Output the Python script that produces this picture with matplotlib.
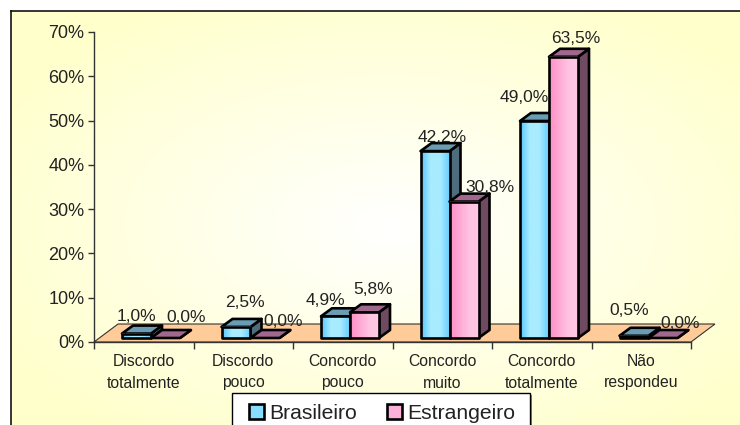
import numpy as np
import matplotlib
matplotlib.use("Agg")
import matplotlib.pyplot as plt
from matplotlib.patches import Polygon, Patch, Rectangle

plt.rcParams['font.family'] = ['Liberation Sans', 'DejaVu Sans']

categories = ["Discordo\ntotalmente", "Discordo\npouco", "Concordo\npouco",
              "Concordo\nmuito", "Concordo\ntotalmente", "Não\nrespondeu"]
brasileiro = [1.0, 2.5, 4.9, 42.2, 49.0, 0.5]
estrangeiro = [0.0, 0.0, 5.8, 30.8, 63.5, 0.0]
series_names = ["Brasileiro", "Estrangeiro"]
y_ticks = [0, 10, 20, 30, 40, 50, 60, 70]
# label offsets from each bar's front top centre, in pixels
label_off_b = [(0, 17), (9, 24), (-10, 16), (7, 14), (-10, 23), (-5, 25)]
label_off_e = [(20.5, 21), (18, 17), (8.5, 23), (26, 14), (12.5, 18), (17, 14)]

W, H = 740, 425
fig = plt.figure(figsize=(W / 100, H / 100), dpi=100, facecolor='white')

# panel background
bg = fig.add_axes([11 / W, 0, (W - 11) / W, (H - 11) / H], zorder=0)
nx, ny = 365, 207
X, Y = np.meshgrid(np.linspace(0, 1, nx), np.linspace(0, 1, ny))
d = np.clip(np.sqrt(((X - 0.52) / 0.62) ** 2 + ((Y - 0.52) / 0.62) ** 2), 0, 1)
img = np.dstack([np.ones_like(d), np.ones_like(d), 1 - 0.2 * d])
bg.imshow(img, aspect='auto', extent=(0, 1, 0, 1), interpolation='bilinear')
bg.set_xticks([]); bg.set_yticks([])
for s in ('right', 'bottom'):
    bg.spines[s].set_visible(False)
for s in ('top', 'left'):
    bg.spines[s].set_linewidth(1.1)
    bg.spines[s].set_color('black')

# plot axes
L, R, T, B = 94, 691, 32, 342
ax = fig.add_axes([L / W, (H - B) / H, (R - L) / W, (B - T) / H], zorder=1)
ax.patch.set_alpha(0)
ax.set_xlim(0, 6)
ax.set_ylim(0, 70)
px = 6 / (R - L)          # x units per pixel
py = 70 / (B - T)         # y units per pixel
for s in ('top', 'right'):
    ax.spines[s].set_visible(False)
for s in ('left', 'bottom'):
    ax.spines[s].set_color('#333333')
    ax.spines[s].set_linewidth(1.0)

# floor
fdx, fdy = 24 * px, 18 * py
ax.add_patch(Polygon([(0, 0), (6, 0), (6 + fdx, fdy), (fdx, fdy)], closed=True,
                     facecolor='#FFCC99', edgecolor='#333333', lw=0.8,
                     clip_on=False, zorder=1))

bar_w = 29 * px
ddx, ddy = 11 * px, 8 * py
base = 4 * py


def gradient(stops):
    t = np.linspace(0, 1, 64)
    c = np.array([matplotlib.colors.to_rgb(s) for s in stops])
    pos = np.linspace(0, 1, len(stops))
    return np.dstack([np.interp(t, pos, c[:, i]) for i in range(3)]).reshape(1, 64, 3)


def bar3d(x0, v, stops, top_col, side_col, z):
    x1 = x0 + bar_w
    y0, y1 = base, base + v
    lw = 1.9
    side = [(x1, y0), (x1 + ddx, y0 + ddy), (x1 + ddx, y1 + ddy), (x1, y1)]
    top = [(x0, y1), (x1, y1), (x1 + ddx, y1 + ddy), (x0 + ddx, y1 + ddy)]
    ax.add_patch(Polygon(side, closed=True, fc=side_col, ec='black', lw=lw,
                         clip_on=False, zorder=z, joinstyle='round'))
    ax.add_patch(Polygon(top, closed=True, fc=top_col, ec='black', lw=lw,
                         clip_on=False, zorder=z, joinstyle='round'))
    if v > 0:
        ax.imshow(gradient(stops), extent=(x0, x1, y0, y1), aspect='auto',
                  interpolation='bilinear', zorder=z + 0.1, clip_on=False)
        ax.add_patch(Polygon([(x0, y0), (x1, y0), (x1, y1), (x0, y1)], closed=True,
                             fc='none', ec='black', lw=lw, clip_on=False,
                             zorder=z + 0.2, joinstyle='round'))


blue_stops = ['#55C4FF', '#A8ECFF', '#A8ECFF', '#66CCFF']
pink_stops = ['#FF8FC6', '#FFA8D4', '#FFC4E2', '#FFC8E4']
xb0 = 28 * px   # left edge of first bar inside its category
for i in range(6):
    xb = i + xb0
    xe = xb + bar_w
    z = 3 + i
    bar3d(xb, brasileiro[i], blue_stops, '#6A9DB4', '#4E6C7C', z)
    bar3d(xe, estrangeiro[i], pink_stops, '#A0688F', '#6F4A60', z + 0.4)

ax.set_xlim(0, 6)
ax.set_ylim(0, 70)


def label(x, v, off):
    ax.annotate(f"{v:.1f}%".replace('.', ','), xy=(x + bar_w / 2, base + v),
                xytext=(off[0] * 0.72, off[1] * 0.72), textcoords='offset points',
                ha='center', va='center', fontsize=12.5, color='#222222',
                zorder=20, annotation_clip=False)


for i in range(6):
    label(i + xb0, brasileiro[i], label_off_b[i])
    label(i + xb0 + bar_w, estrangeiro[i], label_off_e[i])

ax.set_yticks(y_ticks)
ax.set_yticklabels([f"{t}%" for t in y_ticks], fontsize=13, color='#222222')
ax.tick_params(axis='y', length=4, width=1, color='#333333', pad=3)
ax.set_xticks(np.arange(7))
ax.set_xticklabels([])
ax.tick_params(axis='x', which='major', length=5, width=1, color='#333333')
ax.set_xticks(np.arange(6) + 0.5, minor=True)
ax.set_xticklabels(categories, minor=True, fontsize=11.3, color='#222222', linespacing=1.5)
ax.tick_params(axis='x', which='minor', length=0, pad=9)

# legend frame with its shadow, cut by the lower edge of the picture
fx0, fx1, fy0 = 232, 530, 393
fig.add_artist(Rectangle(((fx0 + 2) / W, -0.02), (fx1 - fx0) / W, (H - fy0 - 2) / H + 0.02,
                         fc='#888888', ec='none', zorder=28))
fig.add_artist(Rectangle((fx0 / W, -0.02), (fx1 - fx0) / W, (H - fy0) / H + 0.02,
                         fc='white', ec='black', lw=1.0, zorder=29))

# legend
handles = [Patch(facecolor='#88DDFF', edgecolor='black', linewidth=1.9),
           Patch(facecolor='#FFB0D8', edgecolor='black', linewidth=1.9)]
leg = fig.legend(handles, series_names, loc='upper center',
                 bbox_to_anchor=(382 / W, (H - 393) / H), ncol=2, fontsize=15.2,
                 frameon=False, handlelength=0.71, handleheight=0.71,
                 handletextpad=0.24, columnspacing=1.43, borderpad=0.5,
                 borderaxespad=0, labelcolor='#222222')
leg.set_zorder(30)

fig.savefig('out.png', dpi=100)
